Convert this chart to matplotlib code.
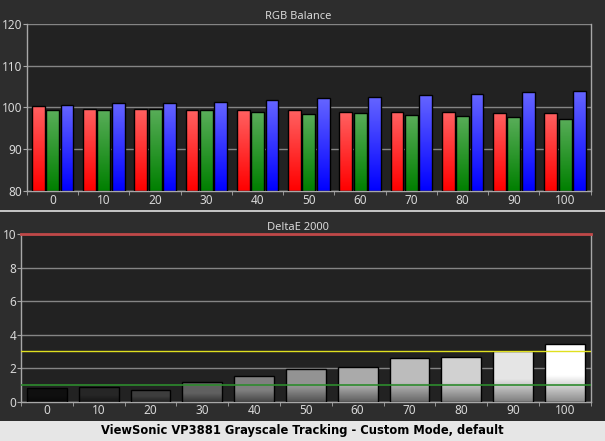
import numpy as np
import matplotlib
matplotlib.use("Agg")
import matplotlib.pyplot as plt

plt.rcParams['font.family'] = ['Noto Sans', 'DejaVu Sans']

levels = [0, 10, 20, 30, 40, 50, 60, 70, 80, 90, 100]
red_vals = [100.4, 99.7, 99.7, 99.4, 99.4, 99.4, 98.9, 98.9, 98.9, 98.7, 98.7]
green_vals = [99.3, 99.4, 99.7, 99.3, 98.9, 98.5, 98.7, 98.2, 98.0, 97.7, 97.3]
blue_vals = [100.6, 101.1, 101.1, 101.4, 101.9, 102.3, 102.6, 103.0, 103.3, 103.7, 104.0]
delta_e = [0.83, 0.85, 0.72, 1.15, 1.51, 1.93, 2.05, 2.58, 2.64, 3.0, 3.46]
gray_levels = [0.06, 0.15, 0.24, 0.38, 0.50, 0.58, 0.67, 0.74, 0.82, 0.90, 1.0]

bg = '#2d2d2d'
axbg = '#222222'
txt = '#d8d8d8'
gridc = '#858585'
spinec = '#a8a8a8'


def gradient_fill(ax, patch, top, bottom, knee=1.0):
    # vertical gradient clipped to the bar
    x0, y0 = patch.get_x(), patch.get_y()
    w, h = patch.get_width(), patch.get_height()
    t = np.linspace(0, 1, 64)
    f = np.clip(t / knee, 0, 1)[:, None]
    cols = np.array(bottom)[None, :] * (1 - f) + np.array(top)[None, :] * f
    img = cols[::-1][:, None, :]
    im = ax.imshow(img, extent=(x0, x0 + w, y0, y0 + h), aspect='auto',
                   zorder=2.5, interpolation='bilinear')
    im.set_clip_path(patch)


def style_axes(ax, ylim, yticks):
    ax.set_facecolor(axbg)
    ax.set_xlim(-0.5, len(levels) - 0.5)
    ax.set_ylim(*ylim)
    ax.set_yticks(yticks)
    ax.set_xticks(range(len(levels)))
    ax.set_xticklabels([str(l) for l in levels])
    ax.set_xticks(np.arange(-0.5, len(levels), 1), minor=True)
    ax.tick_params(axis='x', which='major', length=0, colors=txt, labelsize=8.5, pad=2)
    ax.tick_params(axis='x', which='minor', length=3, color=spinec, direction='out')
    ax.tick_params(axis='y', length=3, color=spinec, colors=txt, labelsize=8.5, pad=0.5)
    for s in ['left', 'bottom', 'right']:
        ax.spines[s].set_color(spinec)
        ax.spines[s].set_linewidth(1)
    ax.spines['top'].set_visible(False)
    ax.yaxis.grid(True, color=gridc, lw=1)
    ax.set_axisbelow(True)


fig = plt.figure(figsize=(6.05, 4.41), dpi=100)
fig.patch.set_facecolor(bg)

# RGB balance
ax1 = fig.add_axes([0.0446, 0.5669, 0.9318, 0.3787])
x = np.arange(len(levels))
bw = 0.25
series = [(red_vals, -0.28, (1.0, 0.38, 0.38), (1.0, 0.0, 0.0)),
          (green_vals, 0.0, (0.35, 0.68, 0.35), (0.0, 0.5, 0.0)),
          (blue_vals, 0.28, (0.40, 0.40, 1.0), (0.0, 0.0, 1.0))]
for vals, off, top, bot in series:
    bars = ax1.bar(x + off, np.array(vals) - 80, bw, bottom=80, facecolor='none',
                   edgecolor='black', lw=1, zorder=3)
    for p in bars:
        gradient_fill(ax1, p, top, bot)
style_axes(ax1, (80, 120), [80, 90, 100, 110, 120])
fig.text(0.4926, 0.9565, 'RGB Balance', color=txt, fontsize=8, ha='center', va='baseline')

# DeltaE 2000
ax2 = fig.add_axes([0.0347, 0.0891, 0.9417, 0.3803])
bars = ax2.bar(x, delta_e, 0.77, facecolor='none', edgecolor='black', lw=1, zorder=3)
for p, g in zip(bars, gray_levels):
    gradient_fill(ax2, p, (g, g, g), (g * 0.55, g * 0.55, g * 0.55), knee=0.45)
style_axes(ax2, (0, 10), [0, 2, 4, 6, 8, 10])
ax2.axhline(10, color='#c04848', lw=2, zorder=4, clip_on=False)
ax2.axhline(3, color='#e0e020', lw=1, zorder=4)
ax2.axhline(1, color='#2e8b2e', lw=1.2, zorder=4)
fig.text(0.4926, 0.4785, 'DeltaE 2000', color=txt, fontsize=8, ha='center', va='baseline')

# separator and caption strip
fig.add_artist(plt.Line2D([0, 1], [0.5215, 0.5215], color='#e0e0e0', lw=1.2))
fig.add_artist(plt.Rectangle((0, 0), 1, 0.0454, facecolor='#e6e6e6',
                             edgecolor='none', transform=fig.transFigure))
fig.text(0.5, 0.024, 'ViewSonic VP3881 Grayscale Tracking - Custom Mode, default',
         ha='center', va='center', fontsize=8.3, fontweight='bold', color='black',
         family='DejaVu Sans')

fig.savefig('out.png', dpi=100, facecolor=bg)
